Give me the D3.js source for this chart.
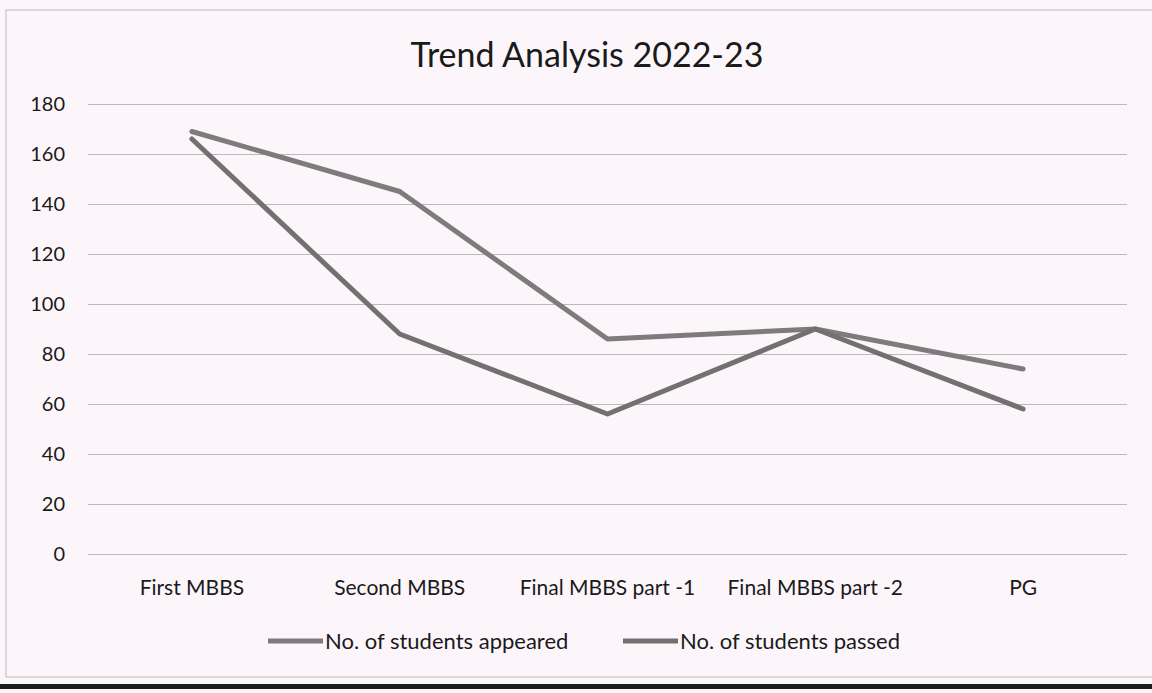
<!DOCTYPE html>
<html lang="en">
<head>
  <meta charset="UTF-8">
  <title>Trend Analysis 2022-23</title>
  <script src="https://d3js.org/d3.v7.min.js"></script>
  <style>
    html, body { margin: 0; padding: 0; background: #fcf6fa; }
    svg, svg text { font-family: Lato, "Open Sans", sans-serif; }
    svg { display: block; }
  </style>
</head>
<body>
  <div class="canvas"></div>
  <script>
    const categories = ['First MBBS', 'Second MBBS', 'Final MBBS part -1', 'Final MBBS part -2', 'PG'];
    const appeared = [169, 145, 86, 90, 74];
    const passed = [166, 88, 56, 90, 58];
    const yTicks = [0, 20, 40, 60, 80, 100, 120, 140, 160, 180];
    const seriesNames = ['No. of students appeared', 'No. of students passed'];

    const width = 1152;
    const height = 693;
    let [mt, mr, mb, ml] = [104, 25, 139, 88];
    const graphWidth = width - ml - mr;
    const graphHeight = height - mt - mb;

    const svg = d3.select('.canvas')
      .append('svg')
      .attr('width', width)
      .attr('height', height)

    // scanned page border
    svg.append('rect')
      .attr('x', 6).attr('y', 10)
      .attr('width', width + 10).attr('height', 667)
      .attr('fill', 'none')
      .attr('stroke', '#c8c2c6')
      .attr('stroke-width', 1.2)
    svg.append('rect')
      .attr('x', 0).attr('y', 684)
      .attr('width', width).attr('height', 5)
      .attr('fill', '#1c1c1c')

    const graph = svg.append('g')
      .attr('transform', `translate(${ml}, ${mt})`)

    const x = d3.scaleBand()
      .domain(categories)
      .range([0, graphWidth])

    const y = d3.scaleLinear()
      .domain([0, 180])
      .range([graphHeight, 0])

    // gridlines + y labels
    const yAxis = graph.append('g')
      .call(d3.axisLeft(y).tickValues(yTicks).tickSize(-graphWidth).tickPadding(23))
      .attr('font-family', null)
      .attr('font-size', null)
    yAxis.select('.domain').remove()
    yAxis.selectAll('line').attr('stroke', '#bdb8bb').attr('stroke-width', 1.2)
    yAxis.selectAll('text')
      .attr('fill', '#1a1a1a')
      .style('font-size', '20px')

    // category labels
    const xAxis = graph.append('g')
      .attr('transform', `translate(0, ${graphHeight})`)
      .call(d3.axisBottom(x).tickSize(0).tickPadding(26))
      .attr('font-family', null)
      .attr('font-size', null)
    xAxis.select('.domain').remove()
    xAxis.selectAll('text')
      .attr('fill', '#1a1a1a')
      .style('font-size', '21px')

    const line = d3.line()
      .x((d, i) => x(categories[i]) + x.bandwidth() / 2)
      .y(d => y(d))

    const lineColors = ['#7d7b7c', '#727071'];
    [appeared, passed].forEach((s, k) => {
      graph.append('path')
        .datum(s)
        .attr('d', line)
        .attr('fill', 'none')
        .attr('stroke', lineColors[k])
        .attr('stroke-width', 5)
        .attr('stroke-linejoin', 'round')
        .attr('stroke-linecap', 'round')
    })

    // title
    svg.append('text')
      .attr('x', 587)
      .attr('y', 67)
      .attr('text-anchor', 'middle')
      .attr('fill', '#1a1a1a')
      .style('font-size', '34px')
      .text('Trend Analysis 2022-23')

    // legend
    const legendX = [268, 623];
    seriesNames.forEach((name, k) => {
      const g = svg.append('g').attr('transform', `translate(${legendX[k]}, 641)`)
      g.append('line')
        .attr('x1', 0).attr('x2', 55)
        .attr('stroke', lineColors[k])
        .attr('stroke-width', 5)
      g.append('text')
        .attr('x', 57)
        .attr('dy', '0.35em')
        .attr('fill', '#1a1a1a')
        .style('font-size', '22px')
        .text(name)
    })
  </script>
</body>
</html>
